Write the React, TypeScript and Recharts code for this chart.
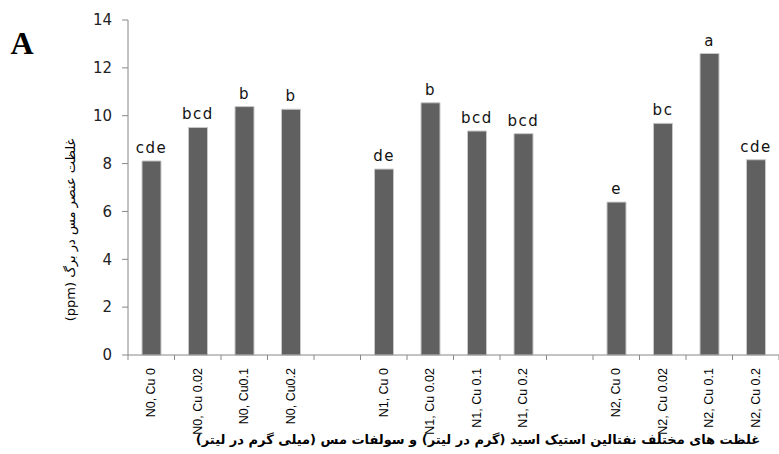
import { Bar, BarChart, LabelList, XAxis, YAxis } from "recharts";

const categories = [
  "N0, Cu 0", "N0, Cu 0.02", "N0, Cu0.1", "N0, Cu0.2", "",
  "N1, Cu 0", "N1, Cu 0.02", "N1, Cu 0.1", "N1, Cu 0.2", "",
  "N2, Cu 0", "N2, Cu 0.02", "N2, Cu 0.1", "N2, Cu 0.2",
];
const copper = [8.11, 9.51, 10.38, 10.27, null, 7.77, 10.54, 9.36, 9.25, null, 6.39, 9.68, 12.6, 8.16];
const letters = ["cde", "bcd", "b", "b", "", "de", "b", "bcd", "bcd", "", "e", "bc", "a", "cde"];
const yTicks = [0, 2, 4, 6, 8, 10, 12, 14];

const yTitle = "غلظت عنصر مس در برگ (ppm)";
const xTitle = "غلظت های مختلف نفتالین استیک اسید (گرم در لیتر) و سولفات مس (میلی گرم در لیتر)";

const chartData = categories.map((name, i) => ({
  name,
  value: copper[i],
  letter: letters[i],
}));

function RotatedTick(props: any) {
  const { x, y, payload, index } = props;
  const half = payload.offset ?? 23;
  return (
    <g>
      <line x1={x - half} x2={x - half} y1={y - 8} y2={y - 3} stroke="#888" />
      {index === categories.length - 1 && (
        <line x1={x + half} x2={x + half} y1={y - 8} y2={y - 3} stroke="#888" />
      )}
      <text
        transform={`translate(${x + 4},${y + 5}) rotate(-90)`}
        textAnchor="end"
        fontFamily="Liberation Sans, Arial, sans-serif"
        fontSize={12.5}
        fill="#000"
      >
        {payload.value}
      </text>
    </g>
  );
}

export default function App() {
  return (
    <div style={{ position: "absolute", left: 0, top: 0, width: 779, height: 454, background: "#fff" }}>
      <BarChart
        width={779}
        height={454}
        data={chartData}
        margin={{ top: 20, right: 0, bottom: 19, left: 0 }}
        barSize={19}
      >
        <XAxis
          dataKey="name"
          interval={0}
          height={80}
          stroke="#888"
          tickLine={false}
          tick={<RotatedTick />}
        />
        <YAxis
          width={128}
          domain={[0, 14]}
          ticks={yTicks}
          stroke="#888"
          tickSize={6}
          tickMargin={10}
          tick={{ fill: "#222", fontSize: 15, fontFamily: "DejaVu Sans, Verdana, sans-serif" }}
        />
        <Bar dataKey="value" fill="#606060" stroke="#c8c8c8" strokeWidth={1} isAnimationActive={false}>
          <LabelList
            dataKey="letter"
            position="top"
            offset={8}
            fill="#111"
            fontSize={15}
            letterSpacing={1.5}
            fontFamily="DejaVu Sans, Verdana, sans-serif"
          />
        </Bar>
        <text
          x={22}
          y={54}
          textAnchor="middle"
          fontFamily="Liberation Serif, Times New Roman, serif"
          fontWeight="bold"
          fontSize={32}
          fill="#000"
        >
          A
        </text>
        <text
          transform="translate(75,230) rotate(-90)"
          textAnchor="middle"
          direction="rtl"
          fontFamily="DejaVu Sans, sans-serif"
          fontSize={13}
          fill="#000"
        >
          {yTitle}
        </text>
        <text
          x={478}
          y={444}
          textAnchor="middle"
          direction="rtl"
          fontFamily="DejaVu Sans, sans-serif"
          fontWeight="bold"
          fontSize={13}
          fill="#000"
        >
          {xTitle}
        </text>
      </BarChart>
    </div>
  );
}
